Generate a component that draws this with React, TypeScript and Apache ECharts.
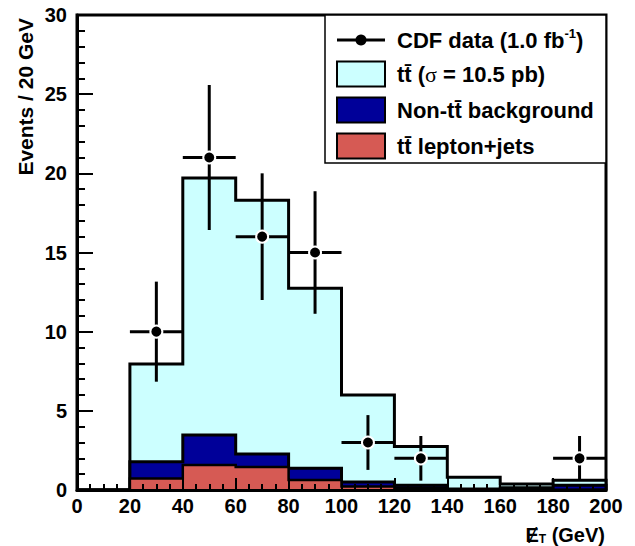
import React, { useEffect, useRef } from "react";
import * as echarts from "echarts";

const binStarts = [0, 20, 40, 60, 80, 100, 120, 140, 160, 180];
const BIN_WIDTH = 20;
const ttbarTotal = [0, 7.96, 19.7, 18.3, 12.75, 6.0, 2.74, 0.8, 0.38, 0.62];
const nonTtTop = [0, 1.78, 3.47, 2.27, 1.37, 0.5, 0.3, 0.06, 0.15, 0.3];
const leptonJets = [0, 0.72, 1.58, 1.45, 0.63, 0.22, 0.14, 0.03, 0.02, 0.03];

const dataX = [30, 50, 70, 90, 110, 130, 190];
const dataY = [10, 21, 16, 15, 3, 2, 2];
const dataErr = [3.16, 4.58, 4.0, 3.87, 1.73, 1.41, 1.41];

const FONT = "'Liberation Sans', Arial, 'DejaVu Sans', sans-serif";
const CYAN = "#ccffff";
const NAVY = "#000099";
const RED = "#d65a54";

function steps(vals: number[]): number[][] {
  const pts: number[][] = [[binStarts[0], 0]];
  vals.forEach((v, i) => {
    pts.push([binStarts[i], v]);
    pts.push([binStarts[i] + BIN_WIDTH, v]);
  });
  pts.push([binStarts[binStarts.length - 1] + BIN_WIDTH, 0]);
  return pts;
}

function histSeries(name: string, vals: number[], color: string, z: number, lw: number) {
  return {
    name,
    type: "line",
    data: steps(vals),
    showSymbol: false,
    symbol: "none",
    z,
    lineStyle: { color: "#000", width: lw, cap: "butt", join: "miter" },
    areaStyle: { color, opacity: 1, origin: "start" },
  };
}

export default function App() {
  const ref = useRef<HTMLDivElement>(null);
  useEffect(() => {
    document.body.style.margin = "0";
    if (!ref.current) return;
    const chart = echarts.init(ref.current, null, { renderer: "svg" });
    const labelStyle = { fontFamily: FONT, fontWeight: "bold", fontSize: 20, color: "#000" };
    const legendText = { fontFamily: FONT, fontWeight: "bold", fontSize: 22, fill: "#000" };
    const rowY = [40, 74, 110, 146];
    const swX = 337;
    const swW = 48;
    const swH = 25;
    const txtX = 397;
    const option: any = {
      animation: false,
      grid: {
        left: 77,
        right: 29,
        top: 15,
        bottom: 56,
        show: true,
        borderColor: "#000",
        borderWidth: 3,
        backgroundColor: "transparent",
      },
      xAxis: {
        type: "value",
        min: 0,
        max: 200,
        interval: 20,
        z: 10,
        axisLine: { show: true, onZero: false, lineStyle: { color: "#000", width: 3 } },
        axisTick: { show: true, inside: true, length: 12, lineStyle: { color: "#000", width: 2 } },
        minorTick: { show: true, splitNumber: 4, length: 6, lineStyle: { color: "#000", width: 2 } },
        splitLine: { show: false },
        axisLabel: { ...labelStyle, margin: 6 },
      },
      yAxis: {
        type: "value",
        min: 0,
        max: 30,
        interval: 5,
        z: 10,
        axisLine: { show: true, lineStyle: { color: "#000", width: 3 } },
        axisTick: { show: true, inside: true, length: 16, lineStyle: { color: "#000", width: 2 } },
        minorTick: { show: true, splitNumber: 5, length: 8, lineStyle: { color: "#000", width: 2 } },
        splitLine: { show: false },
        axisLabel: { ...labelStyle, margin: 10 },
      },
      series: [
        histSeries("tt̄ (σ = 10.5 pb)", ttbarTotal, CYAN, 2, 3),
        histSeries("Non-tt̄ background", nonTtTop, NAVY, 3, 3),
        histSeries("tt̄ lepton+jets", leptonJets, RED, 4, 2.5),
        {
          name: "CDF data",
          type: "custom",
          z: 6,
          data: dataX.map((x, i) => [x, dataY[i], dataErr[i]]),
          renderItem: (params: any, api: any) => {
            const x = api.value(0);
            const y = api.value(1);
            const e = api.value(2);
            const c = api.coord([x, y]);
            const l = api.coord([x - BIN_WIDTH / 2, y]);
            const r = api.coord([x + BIN_WIDTH / 2, y]);
            const t = api.coord([x, y + e]);
            const b = api.coord([x, y - e]);
            const ls = { stroke: "#000", lineWidth: 3 };
            return {
              type: "group",
              children: [
                { type: "line", shape: { x1: l[0], y1: l[1], x2: r[0], y2: r[1] }, style: ls },
                { type: "line", shape: { x1: t[0], y1: t[1], x2: b[0], y2: b[1] }, style: ls },
                {
                  type: "circle",
                  shape: { cx: c[0], cy: c[1], r: 6 },
                  style: { fill: "#000", stroke: "#fff", lineWidth: 2 },
                },
              ],
            };
          },
        },
      ],
      graphic: [
        {
          type: "text",
          x: 25,
          y: 18,
          rotation: Math.PI / 2,
          z: 100,
          style: {
            text: "Events / 20 GeV",
            fontFamily: FONT,
            fontWeight: "bold",
            fontSize: 21,
            fill: "#000",
            align: "right",
            verticalAlign: "middle",
          },
        },
        {
          type: "text",
          x: 605,
          y: 535,
          z: 100,
          style: {
            text: "{a|\u0246}{s|T}{a| (GeV)}",
            align: "right",
            verticalAlign: "middle",
            rich: {
              a: { fontFamily: FONT, fontWeight: "bold", fontSize: 20, lineHeight: 20, fill: "#000" },
              s: { fontFamily: FONT, fontWeight: "bold", fontSize: 12, lineHeight: 20, verticalAlign: "bottom", fill: "#000" },
            },
          },
        },
        {
          type: "rect",
          z: 100,
          shape: { x: 325, y: 15, width: 281, height: 148 },
          style: { fill: "#fff", stroke: "#000", lineWidth: 1.5 },
        },
        {
          type: "line",
          z: 101,
          shape: { x1: swX, y1: rowY[0], x2: swX + swW, y2: rowY[0] },
          style: { stroke: "#000", lineWidth: 3 },
        },
        {
          type: "circle",
          z: 102,
          shape: { cx: swX + swW / 2, cy: rowY[0], r: 5.5 },
          style: { fill: "#000" },
        },
        {
          type: "text",
          z: 101,
          x: txtX,
          y: rowY[0],
          style: {
            text: "{n|CDF data (1.0 fb}{p|-1}{n|)}",
            verticalAlign: "middle",
            rich: {
              n: { ...legendText, lineHeight: 26 },
              p: { ...legendText, fontSize: 13, lineHeight: 26, verticalAlign: "top" },
            },
          },
        },
        ...[
          { c: CYAN, t: "{n|tt\u0304 (}{g|σ}{n| = 10.5 pb)}" },
          { c: NAVY, t: "{n|Non-tt\u0304 background}" },
          { c: RED, t: "{n|tt\u0304 lepton+jets}" },
        ].flatMap((row, i) => [
          {
            type: "rect",
            z: 101,
            shape: { x: swX, y: rowY[i + 1] - swH / 2, width: swW, height: swH },
            style: { fill: row.c, stroke: "#000", lineWidth: 2 },
          },
          {
            type: "text",
            z: 101,
            x: txtX,
            y: rowY[i + 1],
            style: {
              text: row.t,
              verticalAlign: "middle",
              rich: {
                n: { ...legendText, lineHeight: 26 },
                g: { fontFamily: "'Liberation Serif', serif", fontSize: 22, lineHeight: 26, fill: "#000" },
              },
            },
          },
        ]),
      ],
    };
    chart.setOption(option);
    return () => chart.dispose();
  }, []);
  return <div ref={ref} style={{ width: 635, height: 546 }} />;
}
